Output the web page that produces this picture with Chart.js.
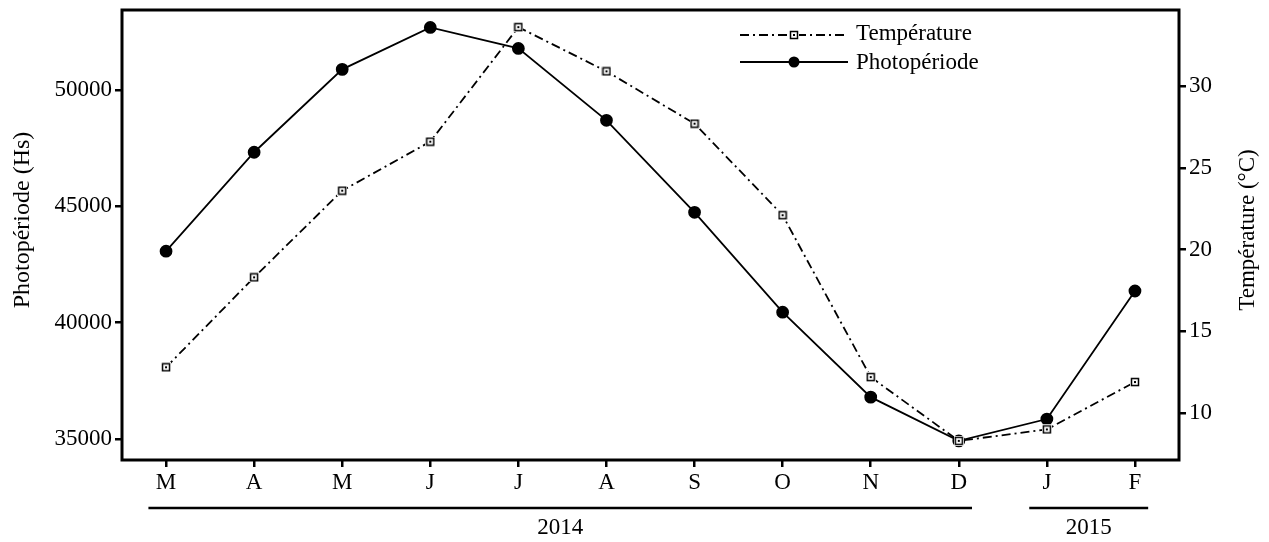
<!DOCTYPE html>
<html>
<head>
<meta charset="utf-8">
<script src="https://cdn.jsdelivr.net/npm/chart.js@4"></script>
<style>
  body { margin: 0; background: #fff; }
  #wrap { width: 1269px; height: 542px; }
</style>
</head>
<body>
<div id="wrap"><canvas id="myChart"></canvas></div>
<script>
// months, March 2014 -> February 2015
let labels = ['M', 'A', 'M', 'J', 'J', 'A', 'S', 'O', 'N', 'D', 'J', 'F'];

let photoperiode = [43070, 47320, 50880, 52680, 51780, 48690, 44740, 40450, 36800, 34920, 35860, 41360];
let temperature = [12.8, 18.3, 23.6, 26.6, 33.6, 30.9, 27.7, 22.1, 12.2, 8.3, 9.0, 11.9];

let leftTicks = [35000, 40000, 45000, 50000];
let rightTicks = [10, 15, 20, 25, 30];

// year bands under the axis: first and last month index
let years = [
    { text: '2014', from: 0, to: 9 },
    { text: '2015', from: 10, to: 11 }
];

let font = 'Liberation Serif';
let fsize = 23;

// little square marker with a dot inside
let sq = document.createElement('canvas');
sq.width = 10; sq.height = 10;
let sctx = sq.getContext('2d');
sctx.fillStyle = '#fff';
sctx.fillRect(0, 0, 10, 10);
sctx.strokeStyle = '#000';
sctx.lineWidth = 1.5;
sctx.strokeRect(1.5, 1.5, 7, 7);
sctx.fillStyle = '#000';
sctx.fillRect(4, 4, 2, 2);

let tempDash = [9, 4, 2, 4];

let framePlugin = {
    id: 'frame',
    afterDraw(chart) {
        let ctx = chart.ctx;
        let a = chart.chartArea;
        let midY = (a.top + a.bottom) / 2;
        ctx.save();
        ctx.strokeStyle = '#000';
        ctx.fillStyle = '#000';
        ctx.lineWidth = 3;
        ctx.strokeRect(a.left, a.top, a.right - a.left, a.bottom - a.top);

        // legend in the top right of the plot
        let lx = a.left + 618, lw = 108;
        ctx.lineWidth = 2;
        ctx.setLineDash(tempDash);
        ctx.beginPath();
        ctx.moveTo(lx, 35); ctx.lineTo(lx + lw, 35);
        ctx.stroke();
        ctx.setLineDash([]);
        ctx.drawImage(sq, lx + lw / 2 - 5, 30);

        ctx.beginPath();
        ctx.moveTo(lx, 62); ctx.lineTo(lx + lw, 62);
        ctx.stroke();
        ctx.beginPath();
        ctx.arc(lx + lw / 2, 62, 5.5, 0, Math.PI * 2);
        ctx.fill();

        ctx.font = fsize + 'px "' + font + '"';
        ctx.textBaseline = 'middle';
        ctx.fillText('Température', lx + lw + 8, 34);
        ctx.fillText('Photopériode', lx + lw + 8, 63);

        // axis titles, both read bottom to top
        ctx.textAlign = 'center';
        ctx.save();
        ctx.translate(23, midY - 15);
        ctx.rotate(-Math.PI / 2);
        ctx.font = '24px "' + font + '"';
        ctx.fillText('Photopériode (Hs)', 0, 0);
        ctx.restore();
        ctx.save();
        ctx.translate(1248, midY - 5);
        ctx.rotate(-Math.PI / 2);
        ctx.fillText('Température (°C)', 0, 0);
        ctx.restore();

        // year lines and labels
        let x = chart.scales.x;
        let half = (x.getPixelForValue(1) - x.getPixelForValue(0)) / 2;
        years.forEach(function(y) {
            let x0 = x.getPixelForValue(y.from) - half * 0.4;
            let x1 = x.getPixelForValue(y.to) + half * 0.3;
            ctx.lineWidth = 2.5;
            ctx.beginPath();
            ctx.moveTo(x0, 508); ctx.lineTo(x1, 508);
            ctx.stroke();
            ctx.fillText(y.text, (x0 + x1) / 2, 528);
        });
        ctx.restore();
    }
};

let tickGrid = { drawOnChartArea: false, drawTicks: true, tickLength: 7, color: '#000', lineWidth: 2.5 };
let tickFont = { color: '#000', font: { family: font, size: fsize }, padding: 3, callback: v => v };

let config = {
    type: 'line',
    data: {
        labels: labels,
        datasets: [{
            label: 'Température',
            data: temperature,
            yAxisID: 'y1',
            borderColor: '#000',
            borderWidth: 1.8,
            borderDash: tempDash,
            pointStyle: sq,
            tension: 0
        }, {
            label: 'Photopériode',
            data: photoperiode,
            yAxisID: 'y',
            borderColor: '#000',
            backgroundColor: '#000',
            borderWidth: 1.8,
            pointRadius: 5.5,
            pointStyle: 'circle',
            tension: 0
        }]
    },
    options: {
        responsive: true,
        maintainAspectRatio: false,
        animation: false,
        layout: { padding: { top: 10, right: 0, left: 0, bottom: 0 } },
        plugins: {
            legend: { display: false },
            tooltip: { enabled: false }
        },
        scales: {
            x: {
                offset: true,
                grid: tickGrid,
                border: { display: false },
                ticks: { color: '#000', font: { family: font, size: fsize }, padding: 2, maxRotation: 0 },
                afterFit: s => { s.height = 82; }
            },
            y: {
                position: 'left',
                min: 34100,
                max: 53430,
                afterBuildTicks: s => { s.ticks = leftTicks.map(v => ({ value: v })); },
                grid: tickGrid,
                border: { display: false },
                ticks: tickFont,
                afterFit: s => { s.width = 122; s.paddingTop = 0; s.paddingBottom = 0; }
            },
            y1: {
                position: 'right',
                min: 7.13,
                max: 34.65,
                afterBuildTicks: s => { s.ticks = rightTicks.map(v => ({ value: v })); },
                grid: tickGrid,
                border: { display: false },
                ticks: tickFont,
                afterFit: s => { s.width = 90; s.paddingTop = 0; s.paddingBottom = 0; }
            }
        }
    },
    plugins: [framePlugin]
};

const myChart = new Chart(document.getElementById('myChart'), config);
</script>
</body>
</html>
